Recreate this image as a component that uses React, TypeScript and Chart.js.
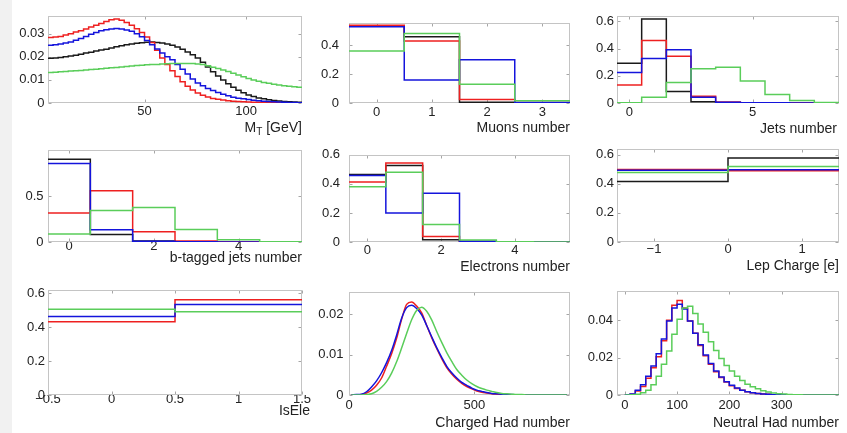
import React, { useEffect, useRef } from 'react';
import { Chart, registerables } from 'chart.js';

Chart.register(...registerables);

const FONT = '"Liberation Sans", Arial, Helvetica, sans-serif';
const TEXT = '#222222';
const FRAME = '#c4c4c4';
const TICK = '#a6a6a6';

const BLACK = '#1a1a1a';
const RED = '#ee2020';
const BLUE = '#1414dc';
const GREEN = '#5acd5a';

// ---- transverse mass, 2.5 GeV bins from 2.5 GeV ----
const mtStart = 2.5;
const mtWidth = 2.5;
const mtBlack = [
  0.0194, 0.0195, 0.0197, 0.02, 0.0203, 0.0207, 0.0211, 0.0216, 0.022, 0.0225,
  0.0229, 0.0233, 0.0238, 0.0243, 0.0248, 0.0252, 0.0255, 0.0258, 0.0261, 0.0263,
  0.0264, 0.0262, 0.0259, 0.0255, 0.025, 0.0242, 0.0232, 0.0221, 0.0209, 0.0195,
  0.0176, 0.0156, 0.0135, 0.0117, 0.0099, 0.0083, 0.0068, 0.0055, 0.0044, 0.0035,
  0.0028, 0.0022, 0.0018, 0.0014, 0.0011, 0.0009, 0.0007, 0.0005, 0.0004, 0.0003,
];
const mtRed = [
  0.0283, 0.0285, 0.0288, 0.0294, 0.03, 0.0307, 0.0313, 0.032, 0.0329, 0.0336,
  0.0344, 0.0352, 0.036, 0.0363, 0.0358, 0.0348, 0.0336, 0.0321, 0.0305, 0.0286,
  0.0262, 0.0228, 0.0195, 0.0167, 0.014, 0.0115, 0.0092, 0.0072, 0.0056, 0.0043,
  0.0034, 0.0026, 0.002, 0.0016, 0.0013, 0.001, 0.0008, 0.0006, 0.0005, 0.0004,
  0.0003, 0.0003, 0.0002, 0.0002, 0.0001, 0.0001, 0.0001, 0.0001, 0, 0,
];
const mtBlue = [
  0.025, 0.0252, 0.0255, 0.0259, 0.0264, 0.0271, 0.0279, 0.0288, 0.0297, 0.0305,
  0.0312, 0.0317, 0.032, 0.0322, 0.032, 0.0316, 0.031, 0.03, 0.0287, 0.027,
  0.0252, 0.0234, 0.0216, 0.02, 0.0187, 0.0167, 0.0146, 0.0125, 0.0104, 0.0087,
  0.0075, 0.0063, 0.0054, 0.0045, 0.0038, 0.0031, 0.0025, 0.0021, 0.0018, 0.0015,
  0.0012, 0.001, 0.0008, 0.0006, 0.0005, 0.0004, 0.0003, 0.0002, 0.0002, 0.0001,
];
const mtGreen = [
  0.0132, 0.0133, 0.0135, 0.0136, 0.0138, 0.014, 0.0141, 0.0143, 0.0145, 0.0146,
  0.0148, 0.015, 0.0152, 0.0154, 0.0156, 0.0158, 0.016, 0.0162, 0.0163, 0.0165,
  0.0166, 0.0167, 0.0169, 0.017, 0.0171, 0.0171, 0.0171, 0.0171, 0.0171, 0.0169,
  0.0166, 0.0161, 0.0155, 0.0149, 0.0143, 0.0136, 0.0129, 0.0121, 0.0113, 0.0106,
  0.01, 0.0094, 0.0089, 0.0085, 0.0081, 0.0078, 0.0075, 0.0072, 0.007, 0.0068,
];

// ---- muon multiplicity (0..3) ----
const muonsBlack = [0.534, 0.46, 0.006, 0];
const muonsRed = [0.54, 0.43, 0.025, 0.003];
const muonsBlue = [0.53, 0.16, 0.3, 0.004];
const muonsGreen = [0.361, 0.483, 0.13, 0.016];

// ---- jet multiplicity (0..8) ----
const jetsBlack = [0.292, 0.617, 0.085, 0.01, 0, 0, 0, 0, 0];
const jetsRed = [0.133, 0.458, 0.344, 0.05, 0.008, 0.002, 0, 0, 0];
const jetsBlue = [0.223, 0.327, 0.391, 0.043, 0.006, 0.002, 0.001, 0, 0];
const jetsGreen = [0.002, 0.043, 0.15, 0.252, 0.263, 0.162, 0.062, 0.019, 0.004];

// ---- b-tagged jet multiplicity (0..5) ----
const btagBlack = [0.902, 0.081, 0.01, 0, 0, 0];
const btagRed = [0.315, 0.56, 0.112, 0.01, 0.003, 0];
const btagBlue = [0.856, 0.133, 0.008, 0.003, 0, 0];
const btagGreen = [0.088, 0.343, 0.377, 0.136, 0.025, 0.004];

// ---- electron multiplicity (0..5) ----
const elecBlack = [0.465, 0.527, 0.015, 0, 0, 0];
const elecRed = [0.413, 0.544, 0.037, 0.003, 0, 0];
const elecBlue = [0.458, 0.2, 0.336, 0.005, 0, 0];
const elecGreen = [0.381, 0.48, 0.121, 0.014, 0.002, 0];

// ---- lepton charge (two bins: -1.5..0, 0..1.5) ----
const lepBlack = [0.416, 0.577];
const lepRed = [0.498, 0.49];
const lepBlue = [0.492, 0.496];
const lepGreen = [0.478, 0.518];

// ---- IsEle flag (bins centred on 0 and 1) ----
const iseleRed = [0.432, 0.562];
const iseleBlue = [0.463, 0.533];
const iseleGreen = [0.505, 0.49];

// ---- charged hadron count, 20-wide bins from 0 ----
const chStart = 0;
const chWidth = 20;
const chRed = [
  0, 0, 0.0001, 0.0005, 0.0012,
  0.0024, 0.0042, 0.0071, 0.0102, 0.014,
  0.0187, 0.0224, 0.023, 0.022, 0.0203,
  0.0172, 0.0142, 0.0115, 0.009, 0.0068,
  0.0052, 0.0039, 0.0029, 0.0021, 0.0015,
  0.001, 0.0007, 0.0005, 0.0003, 0.0002,
  0.0001, 0.0001, 0, 0, 0, 0, 0, 0, 0, 0, 0, 0, 0, 0,
];
const chBlue = [
  0, 0.0001, 0.0002, 0.0008, 0.002,
  0.0035, 0.0055, 0.008, 0.011, 0.0148,
  0.019, 0.0216, 0.0222, 0.0214, 0.0198,
  0.0172, 0.0144, 0.0117, 0.0093, 0.0071,
  0.0055, 0.0042, 0.0031, 0.0024, 0.0017,
  0.0012, 0.0009, 0.0006, 0.0004, 0.0003,
  0.0002, 0.0001, 0.0001, 0, 0, 0, 0, 0, 0, 0, 0, 0, 0, 0,
];
const chGreen = [
  0, 0, 0, 0.0001, 0.0003,
  0.0009, 0.0019, 0.0033, 0.0054, 0.0082,
  0.0116, 0.0152, 0.0186, 0.0209, 0.0217,
  0.0207, 0.0186, 0.0157, 0.013, 0.0105,
  0.0083, 0.0063, 0.0049, 0.0037, 0.0028,
  0.0021, 0.0016, 0.0012, 0.0009, 0.0006,
  0.0004, 0.0003, 0.0002, 0.0001, 0.0001, 0, 0, 0, 0, 0, 0, 0, 0, 0,
];

// ---- neutral hadron count, 10-wide bins from 0 ----
const nhStart = 0;
const nhWidth = 10;
const nhRed = [
  0, 0.0004, 0.0022, 0.0045, 0.009,
  0.0145, 0.0205, 0.029, 0.04, 0.048,
  0.0505, 0.0465, 0.0395, 0.033, 0.0265,
  0.021, 0.0165, 0.0124, 0.0093, 0.0069,
  0.005, 0.0035, 0.0025, 0.0017, 0.0012,
  0.0008, 0.0005, 0.0004, 0.0002, 0.0001,
  0.0001, 0, 0, 0, 0, 0, 0, 0, 0, 0, 0,
];
const nhBlue = [
  0.0001, 0.0006, 0.0025, 0.0055, 0.01,
  0.0155, 0.022, 0.03, 0.0395, 0.0465,
  0.0485, 0.046, 0.0395, 0.033, 0.0268,
  0.0214, 0.0168, 0.0128, 0.0096, 0.0071,
  0.0052, 0.0037, 0.0026, 0.0018, 0.0012,
  0.0008, 0.0005, 0.0004, 0.0002, 0.0001,
  0.0001, 0, 0, 0, 0, 0, 0, 0, 0, 0, 0,
];
const nhGreen = [
  0, 0.0001, 0.0004, 0.0012, 0.0025,
  0.0055, 0.01, 0.0165, 0.0235, 0.0325,
  0.0405, 0.0465, 0.0475, 0.0435, 0.038,
  0.0335, 0.0285, 0.0238, 0.0195, 0.0158,
  0.0128, 0.01, 0.0077, 0.0058, 0.0044,
  0.0033, 0.0023, 0.0016, 0.0011, 0.0007,
  0.0005, 0.0003, 0.0002, 0.0001, 0, 0, 0, 0, 0, 0, 0,
];

type Series = { color: string; values: number[]; start: number; width: number; smooth?: boolean };
type TitlePart = { text: string; sub?: boolean };
type Panel = {
  id: string;
  box: [number, number, number, number];
  xMin: number;
  xMax: number;
  xTicks: number[];
  yMax: number;
  yTicks: number[];
  title: TitlePart[];
  titleGap: number;
  titleDx: number;
  xPad: number;
  yPad: number;
  series: Series[];
};

const PAD_L = 46;
const PAD_T = 8;
const PAD_R = 16;
const PAD_B = 44;

const unit = (start: number, width: number) => (color: string, values: number[], smooth = false): Series => ({
  color,
  values,
  start,
  width,
  smooth,
});

const mt = unit(mtStart, mtWidth);
const cnt = unit(-0.5, 1);
const lep = unit(-1.5, 1.5);
const ch = unit(chStart, chWidth);
const nh = unit(nhStart, nhWidth);

const PANELS: Panel[] = [
  {
    id: 'mt', box: [48, 13, 302, 103], xMin: 2.5, xMax: 127.5, xTicks: [50, 100],
    yMax: 0.0375, yTicks: [0, 0.01, 0.02, 0.03],
    title: [{ text: 'M' }, { text: 'T', sub: true }, { text: ' [GeV]' }], titleGap: 25, titleDx: 0,
    xPad: 1, yPad: 3.5,
    series: [mt(BLACK, mtBlack), mt(RED, mtRed), mt(BLUE, mtBlue), mt(GREEN, mtGreen)],
  },
  {
    id: 'muons', box: [349, 13, 570, 103], xMin: -0.5, xMax: 3.5, xTicks: [0, 1, 2, 3],
    yMax: 0.557, yTicks: [0, 0.2, 0.4],
    title: [{ text: 'Muons number' }], titleGap: 25, titleDx: 0, xPad: 1.5, yPad: 10,
    series: [cnt(BLACK, muonsBlack), cnt(RED, muonsRed), cnt(BLUE, muonsBlue), cnt(GREEN, muonsGreen)],
  },
  {
    id: 'jets', box: [617, 13, 839, 103], xMin: -0.5, xMax: 8.5, xTicks: [0, 5],
    yMax: 0.64, yTicks: [0, 0.2, 0.4, 0.6],
    title: [{ text: 'Jets number' }], titleGap: 26, titleDx: -2, xPad: 2, yPad: 3,
    series: [cnt(BLACK, jetsBlack), cnt(RED, jetsRed), cnt(BLUE, jetsBlue), cnt(GREEN, jetsGreen)],
  },
  {
    id: 'btag', box: [48, 146, 302, 242], xMin: -0.5, xMax: 5.5, xTicks: [0, 2, 4],
    yMax: 1.0, yTicks: [0, 0.5],
    title: [{ text: 'b-tagged jets number' }], titleGap: 16.5, titleDx: 0, xPad: -3, yPad: 4.5,
    series: [cnt(BLACK, btagBlack), cnt(RED, btagRed), cnt(BLUE, btagBlue), cnt(GREEN, btagGreen)],
  },
  {
    id: 'elec', box: [349, 146, 570, 242], xMin: -0.5, xMax: 5.5, xTicks: [0, 2, 4],
    yMax: 0.6, yTicks: [0, 0.2, 0.4, 0.6],
    title: [{ text: 'Electrons number' }], titleGap: 25.5, titleDx: 0, xPad: 1, yPad: 9,
    series: [cnt(BLACK, elecBlack), cnt(RED, elecRed), cnt(BLUE, elecBlue), cnt(GREEN, elecGreen)],
  },
  {
    id: 'lep', box: [617, 146, 839, 242], xMin: -1.5, xMax: 1.5, xTicks: [-1, 0, 1],
    yMax: 0.64, yTicks: [0, 0.2, 0.4, 0.6],
    title: [{ text: 'Lep Charge [e]' }], titleGap: 24.5, titleDx: 0, xPad: 0, yPad: 3,
    series: [lep(BLACK, lepBlack), lep(RED, lepRed), lep(BLUE, lepBlue), lep(GREEN, lepGreen)],
  },
  {
    id: 'isele', box: [48, 287, 302, 395], xMin: -0.5, xMax: 1.5, xTicks: [-0.5, 0, 0.5, 1, 1.5],
    yMax: 0.62, yTicks: [0, 0.2, 0.4, 0.6],
    title: [{ text: 'IsEle' }], titleGap: 16.5, titleDx: 8, xPad: -3.5, yPad: 3,
    series: [cnt(RED, iseleRed), cnt(BLUE, iseleBlue), cnt(GREEN, iseleGreen)],
  },
  {
    id: 'charged', box: [349, 287, 570, 395], xMin: 0, xMax: 882, xTicks: [0, 500],
    yMax: 0.0254, yTicks: [0, 0.01, 0.02],
    title: [{ text: 'Charged Had number' }], titleGap: 28, titleDx: 0, xPad: 3, yPad: 5.5,
    series: [ch(RED, chRed, true), ch(BLUE, chBlue, true), ch(GREEN, chGreen, true)],
  },
  {
    id: 'neutral', box: [617, 287, 839, 395], xMin: -15, xMax: 410, xTicks: [0, 100, 200, 300],
    yMax: 0.0557, yTicks: [0, 0.02, 0.04],
    title: [{ text: 'Neutral Had number' }], titleGap: 28, titleDx: 0, xPad: 3, yPad: 4,
    series: [nh(RED, nhRed), nh(BLUE, nhBlue), nh(GREEN, nhGreen)],
  },
];

const fmt = (v: number) => (v < 0 ? '\u2212' + String(-v) : String(v));

// Histogram outline: one point per bin edge, drawn as a stepped line.
function stepPoints(s: Series) {
  const pts = s.values.map((v, i) => ({ x: s.start + i * s.width, y: v }));
  pts.push({ x: s.start + s.values.length * s.width, y: s.values[s.values.length - 1] });
  return pts;
}

// Smooth outline through the bin centres.
function centrePoints(s: Series) {
  return s.values.map((v, i) => ({ x: s.start + (i + 0.5) * s.width, y: v }));
}

function framePlugin(p: Panel) {
  return {
    id: 'frame-' + p.id,
    beforeDatasetsDraw(chart: any) {
      const { ctx, chartArea: a } = chart;
      const xs = chart.scales.x;
      const ys = chart.scales.y;
      const L = Math.round(a.left) + 0.5;
      const R = Math.round(a.right) - 0.5;
      const T = Math.round(a.top) + 0.5;
      const B = Math.round(a.bottom) - 0.5;
      ctx.save();
      ctx.lineWidth = 1;
      ctx.strokeStyle = TICK;
      ctx.beginPath();
      p.xTicks.forEach((v) => {
        const px = Math.round(xs.getPixelForValue(v)) + 0.5;
        ctx.moveTo(px, B);
        ctx.lineTo(px, B - 3);
        ctx.moveTo(px, T);
        ctx.lineTo(px, T + 3);
      });
      p.yTicks.forEach((v) => {
        const py = Math.round(ys.getPixelForValue(v)) + 0.5;
        ctx.moveTo(L, py);
        ctx.lineTo(L + 3, py);
        ctx.moveTo(R, py);
        ctx.lineTo(R - 3, py);
      });
      ctx.stroke();
      ctx.strokeStyle = FRAME;
      ctx.strokeRect(L, T, R - L, B - T);
      ctx.restore();
    },
    afterDraw(chart: any) {
      const { ctx, chartArea: a } = chart;
      const y = a.bottom + p.titleGap;
      let x = a.right + p.titleDx;
      ctx.save();
      ctx.fillStyle = TEXT;
      ctx.textAlign = 'right';
      ctx.textBaseline = 'middle';
      for (let i = p.title.length - 1; i >= 0; i--) {
        const part = p.title[i];
        ctx.font = (part.sub ? '10px ' : '14px ') + FONT;
        ctx.fillText(part.text, x, part.sub ? y + 4 : y);
        x -= ctx.measureText(part.text).width;
      }
      ctx.restore();
    },
  };
}

function HistPanel({ p }: { p: Panel }) {
  const ref = useRef<HTMLCanvasElement>(null);
  const [l, t, r, b] = p.box;
  const w = r - l + PAD_L + PAD_R;
  const h = b - t + PAD_T + PAD_B;

  useEffect(() => {
    const n = p.series.length;
    const chart = new Chart(ref.current as HTMLCanvasElement, {
      type: 'line',
      data: {
        datasets: p.series.map((s, i) => ({
          data: s.smooth ? centrePoints(s) : stepPoints(s),
          borderColor: s.color,
          backgroundColor: s.color,
          borderWidth: 1.5,
          pointRadius: 0,
          fill: false,
          stepped: s.smooth ? false : true,
          cubicInterpolationMode: s.smooth ? 'monotone' : 'default',
          tension: 0,
          order: n - 1 - i,
        })),
      },
      options: {
        animation: false,
        responsive: false,
        devicePixelRatio: 1,
        events: [],
        layout: { padding: { left: 0, top: PAD_T, right: PAD_R, bottom: 0 } },
        plugins: { legend: { display: false }, tooltip: { enabled: false }, title: { display: false } },
        scales: {
          x: {
            type: 'linear',
            min: p.xMin,
            max: p.xMax,
            grid: { display: false, drawTicks: false },
            border: { display: false },
            afterBuildTicks: (scale: any) => {
              scale.ticks = p.xTicks.map((v) => ({ value: v }));
            },
            afterFit: (scale: any) => {
              scale.height = PAD_B;
            },
            ticks: {
              autoSkip: false,
              maxRotation: 0,
              minRotation: 0,
              padding: p.xPad,
              color: TEXT,
              font: { family: FONT, size: 13 },
              callback: (v: any) => fmt(Number(v)),
            },
          },
          y: {
            type: 'linear',
            min: 0,
            max: p.yMax,
            grid: { display: false, drawTicks: false },
            border: { display: false },
            afterBuildTicks: (scale: any) => {
              scale.ticks = p.yTicks.map((v) => ({ value: v }));
            },
            afterFit: (scale: any) => {
              scale.width = PAD_L;
            },
            ticks: {
              autoSkip: false,
              padding: p.yPad,
              color: TEXT,
              font: { family: FONT, size: 13 },
              callback: (v: any) => fmt(Number(v)),
            },
          },
        },
      } as any,
      plugins: [framePlugin(p)],
    });
    return () => chart.destroy();
  }, [p]);

  return (
    <canvas
      ref={ref}
      width={w}
      height={h}
      style={{ position: 'absolute', left: l - PAD_L, top: t - PAD_T, width: w, height: h }}
    />
  );
}

export default function App() {
  return (
    <div
      style={{
        position: 'absolute',
        left: 0,
        top: 0,
        width: 847,
        height: 433,
        background: '#ffffff',
        overflow: 'hidden',
      }}
    >
      <div style={{ position: 'absolute', left: 0, top: 0, width: 12, height: 433, background: '#f1f1f1' }} />
      {PANELS.map((p) => (
        <HistPanel key={p.id} p={p} />
      ))}
    </div>
  );
}
